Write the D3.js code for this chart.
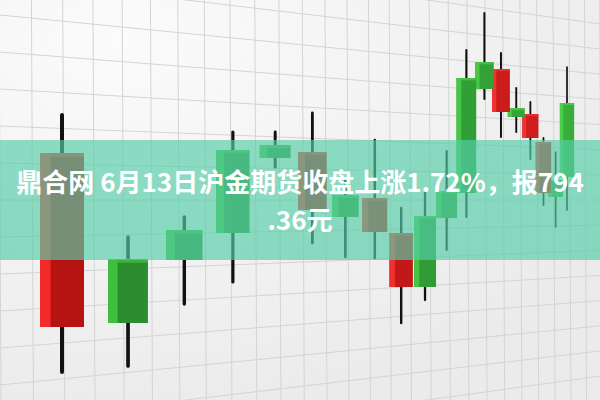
<!DOCTYPE html>
<html><head><meta charset="utf-8">
<script src="https://cdn.jsdelivr.net/npm/d3@7"></script>
<style>html,body{margin:0;padding:0;background:#f1f1f1;}svg{display:block;}</style>
</head><body>
<svg id="c" width="600" height="400"></svg>
<script>
// ---- data (gold futures style candlesticks) ----
const days  = d3.range(1, 20);
const open  = [784.7, 767.7, 774.0, 776.7, 784.2, 784.8, 778.3, 780.2, 776.7, 771.3, 778.2, 780.7, 791.1, 793.1, 788.3, 788.6, 785.8, 780.3, 782.3];
const close = [767.3, 774.1, 777.0, 785.0, 785.5, 779.0, 780.5, 776.8, 771.3, 778.4, 780.9, 792.2, 793.8, 788.8, 789.2, 786.2, 780.7, 782.0, 789.7];
const high  = [788.5, 776.3, 778.3, 786.8, 786.8, 788.7, 782.0, 786.0, 779.2, 780.8, 784.9, 795.0, 798.7, 794.7, 791.2, 789.8, 786.2, 784.8, 793.3];
const low   = [762.8, 763.4, 769.6, 771.8, 783.3, 775.7, 774.3, 774.2, 767.7, 770.0, 775.0, 778.3, 790.1, 786.3, 786.8, 784.1, 779.5, 777.3, 779.0];
const titleLines = ["鼎合网 6月13日沪金期货收盘上涨1.72%，报794", ".36元"];

const W = 600, H = 400;
const svg = d3.select("#c");
const n = days.length;

// perspective depth for receding candles
const k = 0.0865;
const depth = i => i / (1 + k * i);
const shrink = i => Math.pow(1 + k * i, -1.2);
const x = d3.scaleLinear().domain([depth(0), depth(n - 1)]).range([62, 567]);
const y = d3.scaleLinear().domain([760, 800]).range([H, 0]);

// background
const defs = svg.append("defs");
const rg = defs.append("radialGradient").attr("id", "bg").attr("cx", "20%").attr("cy", "10%").attr("r", "95%");
rg.append("stop").attr("offset", "0%").attr("stop-color", "#fbfbfb");
rg.append("stop").attr("offset", "100%").attr("stop-color", "#ebebeb");
svg.append("rect").attr("width", W).attr("height", H).attr("fill", "url(#bg)");

// perspective grid
const grid = svg.append("g").attr("stroke", "#d4d4d4").attr("stroke-width", 1);
const gx = g => -1 + 33 * g / (1 + 0.0179 * g);
const vIdx = d3.range(0, 40).filter(g => gx(g) <= W + 2);
grid.selectAll("line.v").data(vIdx).join("line")
  .attr("x1", d => gx(d)).attr("x2", d => gx(d) + 2)
  .attr("y1", 0).attr("y2", H);
const hIdx = d3.range(-7, 8);
grid.selectAll("line.h").data(hIdx).join("line")
  .attr("x1", 0).attr("x2", W)
  .attr("y1", d => 200 + d * 37)
  .attr("y2", d => 200 + d * 37 * 0.68);

// candles (far ones drawn first)
const idx = d3.range(n).reverse();
const tcol = d3.scaleLinear().domain([0, n - 1]).range([0, 1]);
const greenLight = d3.interpolateRgb("#3fbd3c", "#4ccd4a");
const greenDark  = d3.interpolateRgb("#2b8a2f", "#37ad3a");
const redLight   = d3.interpolateRgb("#f22a2a", "#ef3636");
const redDark    = d3.interpolateRgb("#b61313", "#d41e1e");

const cg = svg.append("g");
const candle = cg.selectAll("g.candle").data(idx).join("g");

candle.append("line")
  .attr("x1", i => x(depth(i))).attr("x2", i => x(depth(i)))
  .attr("y1", i => y(high[i])).attr("y2", i => y(low[i]))
  .attr("stroke", "#111").attr("stroke-width", i => 3.4 * shrink(i) + 0.6)
  .attr("stroke-linecap", "round");

const bw = i => 44 * shrink(i);
const bodyTop = i => y(Math.max(open[i], close[i]));
const bodyH = i => Math.max(2, Math.abs(y(open[i]) - y(close[i])));
const up = i => close[i] >= open[i];

candle.append("rect")
  .attr("x", i => x(depth(i)) - bw(i) / 2)
  .attr("y", bodyTop).attr("width", bw).attr("height", bodyH)
  .attr("fill", i => up(i) ? greenDark(tcol(i)) : redDark(tcol(i)));
candle.append("rect")
  .attr("x", i => x(depth(i)) - bw(i) / 2)
  .attr("y", bodyTop).attr("width", i => bw(i) * 0.24).attr("height", bodyH)
  .attr("fill", i => up(i) ? greenLight(tcol(i)) : redLight(tcol(i)));
candle.append("rect")
  .attr("x", i => x(depth(i)) - bw(i) / 2)
  .attr("y", bodyTop).attr("width", bw).attr("height", i => Math.min(bodyH(i), 3 * shrink(i) + 1))
  .attr("fill", i => up(i) ? greenLight(tcol(i)) : redLight(tcol(i)))
  .attr("opacity", 0.8);

// title banner
svg.append("rect").attr("x", 0).attr("y", 140).attr("width", W).attr("height", 120)
  .attr("fill", "rgb(85,205,168)").attr("fill-opacity", 0.667);

svg.append("g").selectAll("text").data(titleLines).join("text")
  .attr("x", 300).attr("y", (d, i) => 192 + i * 38)
  .attr("text-anchor", "middle")
  .attr("font-family", "'Noto Sans CJK SC', 'Noto Sans', sans-serif")
  .attr("font-weight", "bold").attr("font-size", 26)
  .attr("fill", "#ffffff")
  .text(d => d);
</script>
</body></html>
